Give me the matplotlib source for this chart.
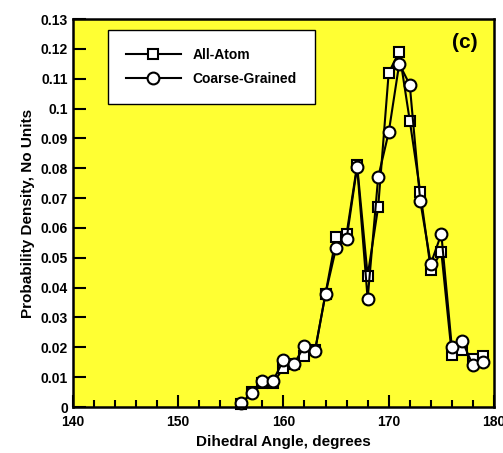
import numpy as np
import matplotlib.pyplot as plt
from matplotlib.ticker import MultipleLocator

plt.rcParams['font.family'] = ['Liberation Sans', 'DejaVu Sans']
plt.rcParams['font.weight'] = 'bold'

# dihedral angle, degrees
angle = np.arange(156, 180)

all_atom = [0.001, 0.005, 0.008, 0.008, 0.013, 0.0145, 0.017, 0.019,
            0.038, 0.057, 0.058, 0.081, 0.044, 0.067, 0.112, 0.119,
            0.096, 0.072, 0.046, 0.052, 0.0175, 0.019, 0.016, 0.017]

coarse = [0.0012, 0.0048, 0.0087, 0.0087, 0.0157, 0.0145, 0.0204, 0.0187,
          0.038, 0.0533, 0.0563, 0.0805, 0.0362, 0.077, 0.092, 0.115,
          0.108, 0.069, 0.048, 0.058, 0.020, 0.022, 0.014, 0.015]

fig = plt.figure(figsize=(5.03, 4.53), dpi=100)
ax = fig.add_axes([0.145, 0.1015, 0.837, 0.8565])
ax.set_facecolor('#FFFF33')

ax.plot(angle, all_atom, '-s', color='black', lw=1.5, ms=7.5,
        mfc='white', mec='black', mew=1.5, label='All-Atom', clip_on=False)
ax.plot(angle, coarse, '-o', color='black', lw=1.5, ms=8.5,
        mfc='white', mec='black', mew=1.5, label='Coarse-Grained', clip_on=False)

ax.set_xlim(140, 180)
ax.set_ylim(0, 0.13)
ax.xaxis.set_major_locator(MultipleLocator(10))
ax.xaxis.set_minor_locator(MultipleLocator(2))
ax.set_yticks(np.arange(0, 0.131, 0.01))
ax.set_yticklabels(['0', '0.01', '0.02', '0.03', '0.04', '0.05', '0.06',
                    '0.07', '0.08', '0.09', '0.1', '0.11', '0.12', '0.13'])

ax.tick_params(which='both', direction='in', width=1.5, labelsize=10)
ax.tick_params(which='major', length=9)
ax.tick_params(which='minor', length=5)
ax.tick_params(axis='x', pad=6)
for s in ax.spines.values():
    s.set_linewidth(1.8)

ax.set_xlabel('Dihedral Angle, degrees', fontsize=11, fontweight='bold', labelpad=4)
ax.set_ylabel('Probability Density, No Units', fontsize=11, fontweight='bold', labelpad=4)

leg = ax.legend(loc='upper left', bbox_to_anchor=(0.066, 0.99), fontsize=10,
                frameon=True, fancybox=False, edgecolor='black', framealpha=1,
                borderpad=1.3, handlelength=4, labelspacing=0.7)
leg.get_frame().set_linewidth(1.0)

ax.text(0.93, 0.94, '(c)', transform=ax.transAxes, fontsize=15,
        fontweight='bold', ha='center', va='center')

fig.savefig('out.png', dpi=100)
